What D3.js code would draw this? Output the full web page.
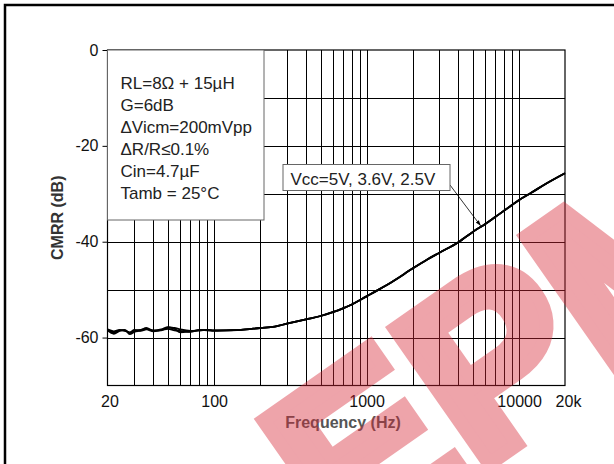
<!DOCTYPE html>
<html lang="en">
<meta charset="utf-8">
<head>
    <script src='https://d3js.org/d3.v7.min.js'></script>
    <style>
        body { margin: 0; background: #fff; }
        text { font-family: 'Liberation Sans', Arial, sans-serif; }
    </style>
</head>
<body>
</body>

<script>
// Data
const freq = [20, 22, 24, 26, 28, 30, 33, 36, 40, 45, 50, 55, 60, 70, 80, 90, 100,
              120, 150, 200, 250, 300, 400, 500, 600, 700, 800, 1000, 1200, 1500,
              2000, 2500, 3000, 4000, 5000, 6000, 7000, 8000, 10000, 12000, 15000, 20000];
// common upper part (120 Hz and up)
const upper = [-58.5, -58.4, -58.0, -57.7, -57.1, -56.2, -55.5, -54.7, -53.9, -53.1,
               -51.4, -50.0, -48.2, -45.6, -43.7, -42.3, -40.1, -37.9, -36.3, -34.8,
               -33.5, -31.3, -29.8, -27.9, -25.7];
// low frequency part differs a bit for each supply voltage
const low5V  = [-58.5, -59.2, -58.6, -58.4, -59.3, -58.8, -58.5, -58.0, -58.6, -58.5, -57.9, -58.2, -58.9, -58.7, -58.5, -58.4, -58.5];
const low36V = [-58.3, -58.7, -58.4, -58.6, -58.9, -58.4, -58.6, -58.3, -58.7, -58.4, -58.2, -58.5, -58.6, -58.8, -58.4, -58.5, -58.6];
const low25V = [-58.4, -58.9, -58.5, -58.5, -59.0, -58.6, -58.4, -58.2, -58.5, -58.3, -57.8, -58.0, -58.3, -58.6, -58.5, -58.4, -58.5];

const xTicks = [20, 100, 1000, 10000, 20000];
const xTickLabels = ['20', '100', '1000', '10000', '20k'];
const yTicks = [0, -20, -40, -60];
const conditions = ['RL=8\u03A9 + 15\u00B5H', 'G=6dB', '\u0394Vicm=200mVpp',
                    '\u0394R/R\u22640.1%', 'Cin=4.7\u00B5F', 'Tamb = 25\u00B0C'];
const curveLabel = 'Vcc=5V, 3.6V, 2.5V';

const W = 614, H = 464;
const pLeft = 107.5, pRight = 565, pTop = 50, pBottom = 385.5;

const svg = d3.select('body').append('svg')
    .attr('width', W).attr('height', H);

const x = d3.scaleLog().domain([20, 20000]).range([pLeft, pRight]);
const y = d3.scaleLinear().domain([-70, 0]).range([pBottom, pTop]);

// grid: every 1..9 per decade
const gridX = [];
[10, 100, 1000, 10000].forEach(d => {
    for (let k = 1; k < 10; k++) {
        const v = d * k;
        if (v > 20 && v < 20000) gridX.push(v);
    }
});
const grid = svg.append('g').attr('stroke', '#000').attr('stroke-width', 1);
grid.selectAll('.vx').data(gridX).join('line')
    .attr('x1', d => Math.round(x(d)) + 0.5).attr('x2', d => Math.round(x(d)) + 0.5)
    .attr('y1', pTop).attr('y2', pBottom);
grid.selectAll('.hy').data(d3.range(-60, 0, 10)).join('line')
    .attr('y1', d => Math.round(y(d)) + 0.5).attr('y2', d => Math.round(y(d)) + 0.5)
    .attr('x1', pLeft).attr('x2', pRight);

// frame
svg.append('rect')
    .attr('x', pLeft).attr('y', pTop)
    .attr('width', pRight - pLeft).attr('height', pBottom - pTop)
    .attr('fill', 'none').attr('stroke', '#000').attr('stroke-width', 1.2);

// y axis: short outside ticks with labels
const yAxis = svg.append('g')
    .attr('transform', `translate(${pLeft},0)`)
    .call(d3.axisLeft(y).tickValues(yTicks).tickSize(5).tickPadding(4).tickFormat(d => String(d)));
yAxis.select('.domain').remove();
yAxis.selectAll('line').attr('stroke', '#000');
yAxis.selectAll('text').attr('font-size', 16).attr('fill', '#111')
    .attr('font-family', "'Liberation Sans', Arial, sans-serif");

// x axis labels
const xAxis = svg.append('g')
    .attr('transform', `translate(0,${pBottom})`)
    .call(d3.axisBottom(x).tickValues(xTicks).tickSize(0).tickPadding(10)
        .tickFormat((d, i) => xTickLabels[i]));
xAxis.select('.domain').remove();
xAxis.selectAll('text').attr('font-size', 16).attr('fill', '#111')
    .attr('font-family', "'Liberation Sans', Arial, sans-serif");
xAxis.selectAll('.tick').filter(d => d === 20).select('text').attr('dx', 2);
xAxis.selectAll('.tick').filter(d => d === 20000).select('text').attr('dx', 3);

// axis titles
svg.append('text')
    .attr('x', 343).attr('y', 428)
    .attr('text-anchor', 'middle')
    .attr('font-size', 16).attr('font-weight', 'bold').attr('fill', '#555')
    .text('Frequency (Hz)');
svg.append('text')
    .attr('transform', `translate(63,${(pTop + pBottom) / 2}) rotate(-90)`)
    .attr('text-anchor', 'middle')
    .attr('font-size', 16).attr('font-weight', 'bold').attr('fill', '#333')
    .text('CMRR (dB)');

// curves
const line = d3.line()
    .x(d => x(d[0]))
    .y(d => y(d[1]))
    .curve(d3.curveMonotoneX);
const series = [low5V, low36V, low25V].map(low =>
    freq.map((f, i) => [f, i < low.length ? low[i] : upper[i - low.length]]));
svg.append('g').selectAll('path').data(series).join('path')
    .attr('d', line)
    .attr('fill', 'none')
    .attr('stroke', '#000')
    .attr('stroke-width', 1.8)
    .attr('stroke-linejoin', 'round');

// condition box
svg.append('rect')
    .attr('x', pLeft).attr('y', pTop)
    .attr('width', 264 - pLeft).attr('height', 220 - pTop)
    .attr('fill', '#fff').attr('stroke', '#666').attr('stroke-width', 1);
svg.append('g').selectAll('text').data(conditions).join('text')
    .attr('x', 120.5)
    .attr('y', (d, i) => 88.5 + i * 22)
    .attr('font-size', 17).attr('fill', '#222')
    .text(d => d);

// curve label and arrow
svg.append('defs').append('marker')
    .attr('id', 'arr').attr('viewBox', '0 0 10 10')
    .attr('refX', 10).attr('refY', 5)
    .attr('markerWidth', 7).attr('markerHeight', 7)
    .attr('orient', 'auto')
    .append('path').attr('d', 'M0,1.5 L10,5 L0,8.5 Z').attr('fill', '#000');
svg.append('line')
    .attr('x1', 450).attr('y1', 185)
    .attr('x2', x(5600)).attr('y2', y(-36.9) - 1)
    .attr('stroke', '#000').attr('stroke-width', 0.8)
    .attr('marker-end', 'url(#arr)');
svg.append('rect')
    .attr('x', 283).attr('y', 164.5)
    .attr('width', 167).attr('height', 26)
    .attr('fill', '#fff').attr('stroke', '#666').attr('stroke-width', 1);
svg.append('text')
    .attr('x', 290.5).attr('y', 184.5)
    .attr('font-size', 17).attr('fill', '#222')
    .text(curveLabel);

// outer frame (runs off the right and bottom edges)
svg.append('rect')
    .attr('x', 5).attr('y', 5)
    .attr('width', 800).attr('height', 800)
    .attr('fill', 'none').attr('stroke', '#000').attr('stroke-width', 2.5);

// watermark (heavy letters, drawn as one translucent layer)
svg.append('g')
    .attr('opacity', 0.42)
    .append('text')
    .attr('transform', 'translate(345,565) rotate(-35)')
    .attr('font-size', 240).attr('font-weight', 'bold')
    .attr('fill', 'rgb(215,40,55)')
    .attr('stroke', 'rgb(215,40,55)').attr('stroke-width', 14)
    .attr('stroke-linejoin', 'miter')
    .text('EPM');
</script>
</html>
